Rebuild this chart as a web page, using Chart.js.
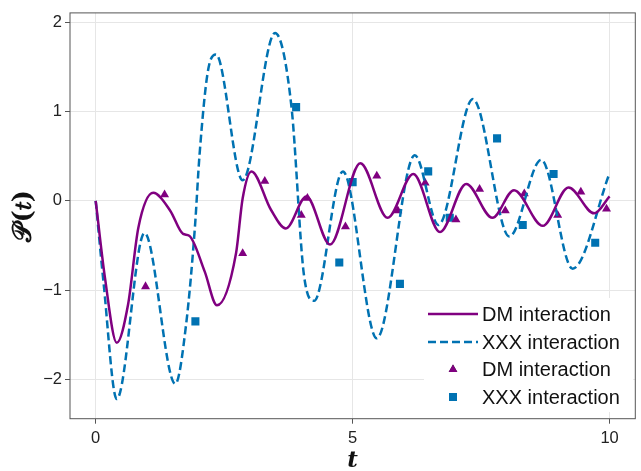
<!DOCTYPE html>
<html lang="en">
<head>
    <meta charset="UTF-8">
    <title>P(t)</title>
    <style>
        body { margin: 0; background: #fff; }
        #chart { display: block; }
    </style>
</head>
<body>
    <canvas id="chart" width="641" height="471"></canvas>

    <script src="https://cdn.jsdelivr.net/npm/chart.js@4/dist/chart.umd.min.js"></script>
    <script>
        // solid curve (DM)
        const dmX = [0, 0.18, 0.41, 0.63, 0.83, 1.12, 1.45, 1.7, 1.82, 2.12, 2.36, 2.73, 2.86, 3.03, 3.41, 3.70, 4.1, 4.56, 5.15, 5.68, 6.18, 6.70, 7.21, 7.72, 8.14, 8.70, 9.20, 9.70, 10.0];
        const dmY = [0, -0.86, -1.59, -1.16, -0.30, 0.09, -0.11, -0.37, -0.39, -0.79, -1.17, -0.59, 0.03, 0.33, -0.10, -0.31, 0.05, -0.49, 0.42, -0.19, 0.30, -0.35, 0.19, -0.19, 0.12, -0.28, 0.15, -0.14, 0.05];

        // dashed curve (XXX)
        const xxxX = [0, 0.15, 0.41, 0.95, 1.55, 1.76, 1.93, 2.02, 2.18, 2.34, 2.86, 3.49, 3.81, 4.05, 4.25, 4.81, 5.47, 6.21, 6.67, 7.34, 8.05, 8.67, 9.28, 10.0];
        const xxxY = [0, -0.90, -2.22, -0.36, -2.05, -1.38, -0.30, 0.51, 1.44, 1.64, 0.23, 1.88, 1.05, -0.82, -1.12, 0.33, -1.54, 0.51, -0.27, 1.14, -0.40, 0.46, -0.76, 0.31];

        // triangles
        const triX = [0.97, 1.34, 2.86, 3.29, 4.0, 4.12, 4.86, 5.47, 5.88, 6.41, 7.01, 7.47, 7.97, 8.34, 8.99, 9.44, 9.94];
        const triY = [-0.96, 0.07, -0.59, 0.22, -0.16, 0.03, -0.29, 0.28, -0.11, 0.20, -0.21, 0.13, -0.11, 0.08, -0.16, 0.10, -0.09];

        // squares
        const sqX = [1.94, 3.90, 4.74, 5.0, 5.92, 6.47, 6.89, 7.81, 8.31, 8.91, 9.72];
        const sqY = [-1.35, 1.05, -0.69, 0.21, -0.93, 0.33, -0.19, 0.70, -0.27, 0.30, -0.47];

        const xTicks = [0, 5, 10];
        const yTicks = [-2, -1, 0, 1, 2];
        const labels = ['DM interaction', 'XXX interaction', 'DM interaction', 'XXX interaction'];

        const purple = '#800080';
        const blue = '#0072b2';
        const font = '"Liberation Sans", Arial, sans-serif';

        const pts = (xs, ys) => xs.map((x, i) => ({ x: x, y: ys[i] }));

        // legend inside lower right, then the box round the plot
        const frame = {
            id: 'frame',
            afterDraw(chart) {
                const { ctx, chartArea: a } = chart;
                ctx.save();
                ctx.fillStyle = '#fff';
                ctx.fillRect(424, 298, a.right - 426, 114);

                const rows = [314, 342, 369.5, 397];
                ctx.font = '20px ' + font;
                ctx.textBaseline = 'middle';
                ctx.fillStyle = '#111';
                rows.forEach((y, i) => ctx.fillText(labels[i], 482, y + 1));

                ctx.lineWidth = 2.5;
                ctx.strokeStyle = purple;
                ctx.beginPath(); ctx.moveTo(428, rows[0]); ctx.lineTo(478, rows[0]); ctx.stroke();
                ctx.strokeStyle = blue;
                ctx.setLineDash([8, 4]);
                ctx.beginPath(); ctx.moveTo(428, rows[1]); ctx.lineTo(478, rows[1]); ctx.stroke();
                ctx.setLineDash([]);

                Chart.helpers.drawPoint(ctx, { pointStyle: 'triangle', radius: 5, borderWidth: 0 }, 453, rows[2]);
                ctx.fillStyle = purple; ctx.fill();
                ctx.fillStyle = blue;
                ctx.fillRect(449, rows[3] - 4, 8, 8);

                ctx.strokeStyle = '#555';
                ctx.lineWidth = 1;
                ctx.strokeRect(a.left, a.top, a.right - a.left, a.bottom - a.top);
                ctx.restore();
            }
        };

        const minus = v => String(v).replace('-', '\u2212');

        new Chart(document.getElementById('chart'), {
            type: 'line',
            data: {
                datasets: [{
                    label: labels[0],
                    data: pts(dmX, dmY),
                    borderColor: purple,
                    borderWidth: 2.5,
                    pointRadius: 0,
                    cubicInterpolationMode: 'monotone',
                    fill: false
                }, {
                    label: labels[1],
                    data: pts(xxxX, xxxY),
                    borderColor: blue,
                    borderWidth: 2.5,
                    borderDash: [8, 4],
                    pointRadius: 0,
                    cubicInterpolationMode: 'monotone',
                    fill: false
                }, {
                    label: labels[2],
                    data: pts(triX, triY),
                    showLine: false,
                    pointStyle: 'triangle',
                    pointRadius: 5.2,
                    pointBorderWidth: 0,
                    pointBackgroundColor: purple,
                    pointBorderColor: purple
                }, {
                    label: labels[3],
                    data: pts(sqX, sqY),
                    showLine: false,
                    pointStyle: 'rect',
                    pointRadius: 5.7,
                    pointBorderWidth: 0,
                    pointBackgroundColor: blue,
                    pointBorderColor: blue
                }]
            },
            options: {
                responsive: false,
                animation: false,
                layout: { padding: { top: 9.5, right: 3, left: 0, bottom: 0 } },
                plugins: {
                    legend: { display: false },
                    tooltip: { enabled: false }
                },
                scales: {
                    x: {
                        type: 'linear',
                        min: -0.5,
                        max: 10.5,
                        afterBuildTicks: s => { s.ticks = xTicks.map(v => ({ value: v })); },
                        afterFit: s => { s.height = 52.3; },
                        grid: { color: '#e6e6e6', tickColor: '#555', tickLength: 5 },
                        border: { display: false },
                        ticks: { color: '#222', padding: 5, maxRotation: 0, font: { family: font, size: 16.5 }, callback: minus },
                        title: {
                            display: true,
                            text: 't',
                            color: '#111',
                            padding: { top: 0, bottom: 1 },
                            font: { family: '"DejaVu Serif", serif', size: 23, style: 'italic', weight: 'bold', lineHeight: 0.8 }
                        }
                    },
                    y: {
                        min: -2.44,
                        max: 2.105,
                        afterBuildTicks: s => { s.ticks = yTicks.map(v => ({ value: v })); },
                        afterFit: s => { s.width = 70; },
                        grid: { color: '#e6e6e6', tickColor: '#555', tickLength: 5 },
                        border: { display: false },
                        ticks: { color: '#222', padding: 3, font: { family: font, size: 16.5 }, callback: minus },
                        title: {
                            display: true,
                            text: '\u{1D4AB}(\u{1D461})',
                            color: '#111',
                            padding: { top: 11, bottom: 0 },
                            font: { family: '"DejaVu Serif", serif', size: 26, weight: 'bold', lineHeight: 1 }
                        }
                    }
                }
            },
            plugins: [frame]
        });
    </script>
</body>
</html>
